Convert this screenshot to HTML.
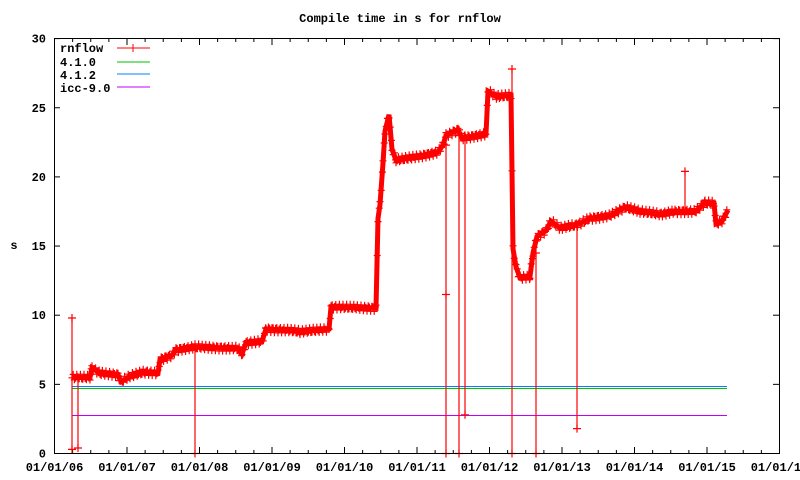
<!DOCTYPE html>
<html><head><meta charset="utf-8"><style>
html,body{margin:0;padding:0;background:#fff}
svg{display:block}
text{font-family:"Liberation Mono",monospace;font-size:12px;font-weight:bold;fill:#000}
</style></head><body>
<svg id="s" width="800" height="480" xmlns="http://www.w3.org/2000/svg">
<text x="400" y="22" text-anchor="middle">Compile time in s for rnflow</text>
<text x="14" y="249" text-anchor="middle">s</text>
<g id="ax"></g>
<g id="leg">
<text x="60" y="52">rnflow</text>
<text x="60" y="66">4.1.0</text>
<text x="60" y="79">4.1.2</text>
<text x="60" y="92">icc-9.0</text>
<line x1="117" y1="48" x2="150" y2="48" stroke="#f00" stroke-width="1"/>
<line x1="133" y1="44" x2="133" y2="52" stroke="#f00" stroke-width="1"/>
<line x1="117" y1="62" x2="150" y2="62" stroke="#00c000"/>
<line x1="117" y1="74" x2="150" y2="74" stroke="#0080ff"/>
<line x1="117" y1="87" x2="150" y2="87" stroke="#c000ff"/>
</g>
<line x1="72" y1="415.5" x2="727" y2="415.5" stroke="#c000ff"/>
<line x1="72" y1="388.5" x2="727" y2="388.5" stroke="#00c000"/>
<line x1="72" y1="386.5" x2="727" y2="386.5" stroke="#0080ff"/>
<g id="data"></g>
<rect x="54.5" y="38.5" width="725" height="415" fill="none" stroke="#000"/>
</svg>
<script>
function Y(v){return 453.5-v*13.83;}
var ax=document.getElementById('ax');
var h='';
for(var i=0;i<=6;i++){var v=i*5,y=Y(v);
h+='<line x1="54" y1="'+y+'" x2="60" y2="'+y+'" stroke="#000"/><line x1="773" y1="'+y+'" x2="779" y2="'+y+'" stroke="#000"/>';
h+='<text x="46" y="'+(y+4)+'" text-anchor="end">'+v+'</text>';}
var labs=['06','07','08','09','10','11','12','13','14','15','16'];
for(var i=0;i<=10;i++){var x=54.5+i*72.5;
h+='<line x1="'+x+'" y1="453" x2="'+x+'" y2="447" stroke="#000"/><line x1="'+x+'" y1="39" x2="'+x+'" y2="45" stroke="#000"/>';
h+='<text x="'+x+'" y="471" text-anchor="middle">01/01/'+labs[i]+'</text>';
if(i<10)for(var q=1;q<4;q++){var xq=x+q*18.125;h+='<line x1="'+xq+'" y1="453" x2="'+xq+'" y2="450" stroke="#000"/><line x1="'+xq+'" y1="39" x2="'+xq+'" y2="42" stroke="#000"/>';}}
ax.innerHTML=h;
var pts=[[72,5.5],[90,5.5],[92,6.2],[100,5.8],[118,5.7],[121,5.2],[130,5.6],[145,5.9],[158,5.8],[160,6.8],[172,7.1],[176,7.5],[195,7.7],[238,7.6],[242,7.2],[246,8],[262,8.1],[266,9],[290,8.9],[300,8.8],[329,9],[331,10.6],[376,10.5],[378,17],[380,18],[383,21],[385,23.3],[389,24.5],[392,22],[396,21.2],[420,21.5],[438,21.8],[443,22.3],[446,23],[458,23.4],[462,22.8],[486,23.1],[488,26.2],[497,25.8],[511,25.9],[512,20.4],[513,14.8],[516,13.5],[520,12.7],[530,12.8],[533,14.5],[537,15.7],[546,16.1],[551,16.8],[560,16.3],[575,16.5],[582,16.7],[590,17],[610,17.2],[625,17.8],[640,17.5],[660,17.3],[675,17.5],[695,17.5],[705,18.1],[714,18.1],[716,16.6],[722,16.8],[728,17.6]];
var d='';var line='';
for(var k=0;k<pts.length;k++){line+=(k?'L':'M')+pts[k][0]+' '+Y(pts[k][1]).toFixed(1);}
for(var k=0;k<pts.length-1;k++){var a=pts[k],b=pts[k+1];
for(var x=a[0];x<b[0];x+=1.2){var t=(x-a[0])/(b[0]-a[0]);var y=Y(a[1]+(b[1]-a[1])*t)+(Math.sin(x*1.7)*3.2);
d+='M'+(x-3.5)+' '+y.toFixed(1)+'h7M'+x+' '+(y-3.5).toFixed(1)+'v7';}}
var drops=[[72,9.8,0.3],[78,5.5,0.4],[195,7.7,0],[446,22.3,0],[446,22.3,11.5],[459,23.4,0],[465,23,2.8],[512,27.8,0],[536,14.5,0],[577,16.5,1.8],[685,17.5,20.4]];
var dl='';
for(var k=0;k<drops.length;k++){var q=drops[k];dl+='M'+q[0]+' '+Y(q[1]).toFixed(1)+'V'+Y(q[2]).toFixed(1);
d+='M'+(q[0]-4)+' '+Y(q[2]).toFixed(1)+'h8M'+q[0]+' '+(Y(q[2])-4).toFixed(1)+'v8';
d+='M'+(q[0]-4)+' '+Y(q[1]).toFixed(1)+'h8M'+q[0]+' '+(Y(q[1])-4).toFixed(1)+'v8';}
document.getElementById('data').innerHTML='<path d="'+line+'" fill="none" stroke="#f00" stroke-width="5"/><path d="'+dl+'" stroke="#f00" stroke-width="1.2" fill="none"/><path d="'+d+'" stroke="#f00" stroke-width="1.2" fill="none"/>';
</script>
</body></html>
